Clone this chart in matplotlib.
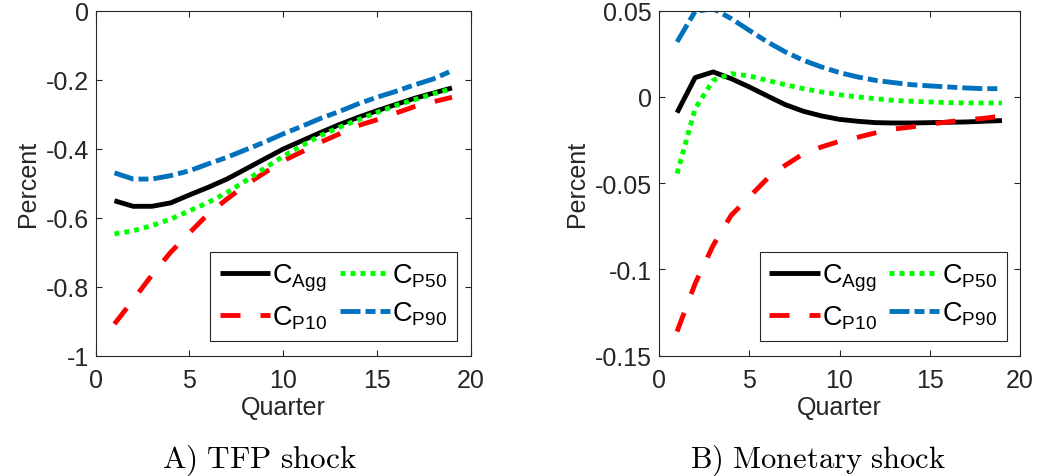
import matplotlib
matplotlib.use("Agg")
import matplotlib.pyplot as plt
import numpy as np

# ---------------- data ----------------
quarters = list(range(1, 20))

tfp_agg = [-0.551, -0.567, -0.567, -0.557, -0.534, -0.512, -0.488, -0.459, -0.430, -0.401,
           -0.377, -0.353, -0.330, -0.309, -0.290, -0.272, -0.254, -0.239, -0.224]
tfp_p10 = [-0.908, -0.838, -0.766, -0.700, -0.644, -0.589, -0.546, -0.505, -0.470, -0.435,
           -0.409, -0.381, -0.357, -0.333, -0.316, -0.297, -0.278, -0.264, -0.251]
tfp_p50 = [-0.647, -0.638, -0.623, -0.604, -0.580, -0.556, -0.527, -0.493, -0.457, -0.422,
           -0.391, -0.362, -0.338, -0.316, -0.295, -0.275, -0.258, -0.241, -0.227]
tfp_p90 = [-0.470, -0.488, -0.488, -0.478, -0.464, -0.444, -0.425, -0.403, -0.381, -0.357,
           -0.335, -0.312, -0.292, -0.270, -0.251, -0.234, -0.215, -0.198, -0.174]

mon_agg = [-0.0091, 0.0112, 0.0145, 0.0106, 0.0058, 0.0006, -0.0045, -0.0083, -0.0110, -0.0130,
           -0.0141, -0.0149, -0.0151, -0.0151, -0.0149, -0.0147, -0.0145, -0.0141, -0.0137]
mon_p10 = [-0.136, -0.1082, -0.0860, -0.0686, -0.0580, -0.0473, -0.0396, -0.0329, -0.0290, -0.0257,
           -0.0234, -0.0208, -0.0186, -0.0174, -0.0157, -0.0145, -0.0132, -0.0124, -0.0110]
mon_p50 = [-0.0444, -0.0068, 0.0096, 0.0135, 0.0122, 0.0096, 0.0071, 0.0048, 0.0029, 0.0013,
           0.0000, -0.0010, -0.0020, -0.0025, -0.0029, -0.0033, -0.0035, -0.0035, -0.0035]
mon_p90 = [0.0319, 0.0496, 0.0512, 0.0454, 0.0386, 0.0319, 0.0261, 0.0212, 0.0174, 0.0141,
           0.0116, 0.0096, 0.0083, 0.0071, 0.0064, 0.0058, 0.0052, 0.0048, 0.0048]

labels = [r"$\mathregular{C_{Agg}}$", r"$\mathregular{C_{P10}}$",
          r"$\mathregular{C_{P50}}$", r"$\mathregular{C_{P90}}$"]
captions = [r"$\mathrm{A)\ TFP\ shock}$", r"$\mathrm{B)\ Monetary\ shock}$"]
xticks = [0, 5, 10, 15, 20]
yticks_tfp = [-1, -0.8, -0.6, -0.4, -0.2, 0]
yticks_mon = [-0.15, -0.1, -0.05, 0, 0.05]

# ---------------- style ----------------
plt.rcParams['font.family'] = ['Liberation Sans', 'DejaVu Sans']
plt.rcParams['axes.unicode_minus'] = False
plt.rcParams['lines.scale_dashes'] = False
plt.rcParams['mathtext.fontset'] = 'custom'
plt.rcParams['mathtext.rm'] = 'Liberation Sans'

axcol = '#262626'
styles = [
    dict(color='black', linestyle='-'),
    dict(color='#FF0000', dashes=(14.4, 14.4)),
    dict(color='#00FF00', dashes=(3.6, 3.6)),
    dict(color='#0072BD', dashes=(14.4, 3.6, 7.2, 3.6)),
]
LW = 3.5

fig = plt.figure(figsize=(10.37, 4.77), dpi=100)
ax1 = fig.add_axes([0.0923, 0.2522, 0.3616, 0.7233])
ax2 = fig.add_axes([0.6355, 0.2522, 0.3481, 0.7233])


def draw(ax, series, yticks, ylim):
    handles = []
    for s, st, lab in zip(series, styles, labels):
        h, = ax.plot(quarters, s, linewidth=LW, label=lab, solid_capstyle='butt',
                     dash_capstyle='butt', **st)
        handles.append(h)
    ax.set_xlim(0, 20)
    ax.set_ylim(*ylim)
    ax.set_xticks(xticks)
    ax.set_yticks(yticks)
    ax.set_yticklabels(['%g' % v for v in yticks])
    ax.tick_params(direction='in', top=True, right=True, length=4, width=0.8,
                   labelsize=18, colors=axcol, labelcolor=axcol)
    ax.tick_params(axis='x', pad=9)
    ax.tick_params(axis='y', pad=5)
    for sp in ax.spines.values():
        sp.set_color(axcol)
        sp.set_linewidth(0.8)
    ax.set_xlabel('Quarter', fontsize=18, color=axcol, labelpad=2)
    ax.set_ylabel('Percent', fontsize=18, color=axcol, labelpad=4)
    leg = ax.legend(handles=handles, ncol=2, loc='lower right',
                    bbox_to_anchor=(0.963, 0.0435), borderaxespad=0,
                    fontsize=19.5, fancybox=False, framealpha=1,
                    edgecolor=axcol, handlelength=1.85, handletextpad=0.1,
                    columnspacing=0.45, labelspacing=0.4, borderpad=0.35)
    leg.get_frame().set_linewidth(0.8)


draw(ax1, [tfp_agg, tfp_p10, tfp_p50, tfp_p90], yticks_tfp, (-1, 0))
draw(ax2, [mon_agg, mon_p10, mon_p50, mon_p90], yticks_mon, (-0.15, 0.05))

fig.text(0.2507, 0.034, captions[0], fontsize=22.5, ha='center', va='center',
         math_fontfamily='cm')
fig.text(0.7888, 0.034, captions[1], fontsize=22, ha='center', va='center',
         math_fontfamily='cm')

fig.savefig('out.png', dpi=100)
